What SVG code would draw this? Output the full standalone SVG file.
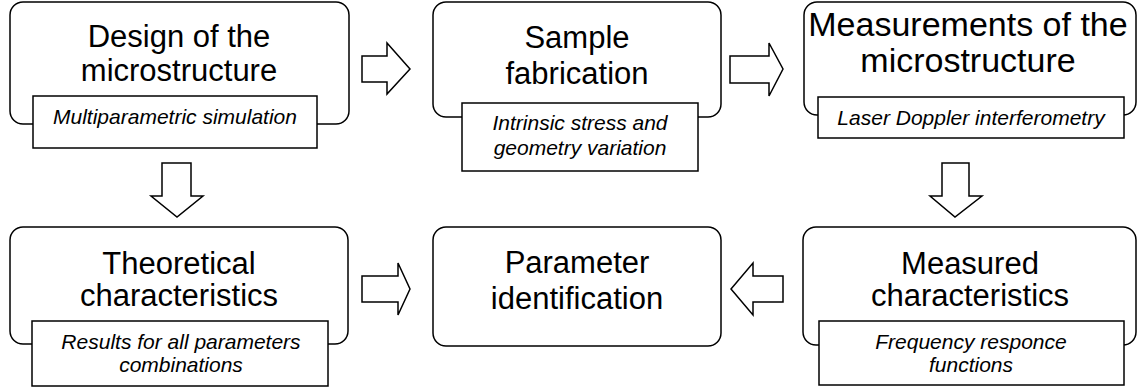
<svg xmlns="http://www.w3.org/2000/svg" width="1138" height="391" viewBox="0 0 1138 391">
<style>
.box{fill:#fff;stroke:#000;stroke-width:1.5}
.sub{fill:#fff;stroke:#000;stroke-width:1.5}
.arr{fill:#fff;stroke:#000;stroke-width:1.5;stroke-linejoin:miter}
.t{font-family:"Liberation Sans",Arial,sans-serif;font-size:31px;fill:#000;text-anchor:middle}
.tl{font-family:"Liberation Sans",Arial,sans-serif;font-size:34px;fill:#000;text-anchor:middle}
.s{font-family:"Liberation Sans",Arial,sans-serif;font-size:21px;font-style:italic;fill:#000;text-anchor:middle}
</style>
<rect width="1138" height="391" fill="#fff"/>
<g id="connectors">
<polygon class="arr" points="362,56 387,56 387,43 410,69 387,94 387,82 362,82"/>
<polygon class="arr" points="730,56 769,56 769,43 783,69 769,96 769,83 730,83"/>
<polygon class="arr" points="162,163 191,163 191,196 203,196 177,217 151,196 162,196"/>
<polygon class="arr" points="942,163 969,163 969,196 982,196 955,217 930,196 942,196"/>
<polygon class="arr" points="362,276 398,276 398,263 410,289 398,315 398,302 362,302"/>
<polygon class="arr" points="783,276 753,276 753,263 731,289 753,315 753,302 783,302"/>
</g>
<g id="design">
<rect class="box" x="10" y="2" width="339" height="122" rx="13"/>
<text class="t" x="179" y="47">Design of the</text>
<text class="t" x="179" y="81">microstructure</text>
<rect class="sub" x="33" y="96" width="284" height="52"/>
<text class="s" x="175" y="124">Multiparametric simulation</text>
</g>
<g id="fabrication">
<rect class="box" x="433" y="2" width="288" height="115" rx="13"/>
<text class="t" x="577" y="48">Sample</text>
<text class="t" x="577" y="84">fabrication</text>
<rect class="sub" x="462" y="103" width="236" height="68"/>
<text class="s" x="580" y="130">Intrinsic stress and</text>
<text class="s" x="580" y="155">geometry variation</text>
</g>
<g id="measurements">
<rect class="box" x="804" y="2" width="332" height="113" rx="13"/>
<text class="tl" x="968" y="36">Measurements of the</text>
<text class="tl" x="968" y="72">microstructure</text>
<rect class="sub" x="818" y="97" width="306" height="41"/>
<text class="s" x="971" y="125">Laser Doppler interferometry</text>
</g>
<g id="theoretical">
<rect class="box" x="10" y="227" width="338" height="117" rx="13"/>
<text class="t" x="179" y="274">Theoretical</text>
<text class="t" x="179" y="306">characteristics</text>
<rect class="sub" x="32" y="321" width="296" height="65"/>
<text class="s" x="181" y="349">Results for all parameters</text>
<text class="s" x="181" y="372">combinations</text>
</g>
<g id="identification">
<rect class="box" x="433" y="227" width="288" height="119" rx="13"/>
<text class="t" x="577" y="273">Parameter</text>
<text class="t" x="577" y="309">identification</text>
</g>
<g id="measured">
<rect class="box" x="803" y="227" width="333" height="118" rx="13"/>
<text class="t" x="970" y="274">Measured</text>
<text class="t" x="970" y="306">characteristics</text>
<rect class="sub" x="819" y="321" width="305" height="64"/>
<text class="s" x="971" y="349">Frequency responce</text>
<text class="s" x="971" y="372">functions</text>
</g>
</svg>
